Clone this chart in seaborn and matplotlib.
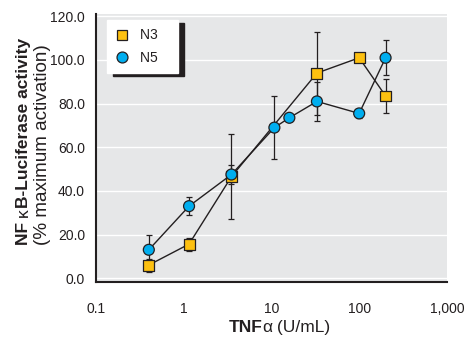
import numpy as np
import pandas as pd
import matplotlib
matplotlib.use("Agg")
import matplotlib.pyplot as plt
import matplotlib.ticker as mticker
import seaborn as sns

# data
n3_dose = [0.4, 1.15, 3.5, 33, 100, 200]
n3_act = [6.0, 15.6, 46.5, 94.0, 101.0, 83.5]
n3_err = [3.0, 3.0, 19.5, 19.0, 0.0, 8.0]

n5_dose = [0.4, 1.15, 3.5, 10.8, 16, 33, 100, 200]
n5_act = [13.0, 33.0, 47.5, 69.0, 73.5, 81.0, 75.5, 101.0]
n5_err = [7.0, 4.2, 4.3, 14.5, 0.0, 9.0, 2.0, 8.0]

x_ticks = [0.1, 1, 10, 100, 1000]
x_ticklabels = ["0.1", "1", "10", "100", "1,000"]
y_ticks = [0, 20, 40, 60, 80, 100, 120]

FONT = ["Liberation Sans Narrow", "Liberation Sans", "DejaVu Sans"]
INK = "#231F20"
GOLD = "#FDC010"
CYAN = "#00AEEF"

df = pd.concat([
    pd.DataFrame({"dose": n3_dose, "act": n3_act, "err": n3_err, "series": "N3"}),
    pd.DataFrame({"dose": n5_dose, "act": n5_act, "err": n5_err, "series": "N5"}),
], ignore_index=True)

sns.set_theme(style="white", rc={"axes.facecolor": "#E6E7E8"})
plt.rcParams["font.family"] = FONT

fig = plt.figure(figsize=(4.66, 3.37), dpi=100)
ax = fig.add_axes([0.206, 0.163, 0.753, 0.795])

for name, g in df.groupby("series"):
    ax.errorbar(g["dose"], g["act"], yerr=g["err"], fmt="none", ecolor=INK,
                elinewidth=0.9, capsize=2.5, capthick=0.9, zorder=2)

sns.lineplot(data=df, x="dose", y="act", units="series", estimator=None,
             color=INK, linewidth=1.0, ax=ax, zorder=3, legend=False)
sns.scatterplot(data=df, x="dose", y="act", hue="series", style="series",
                palette={"N3": GOLD, "N5": CYAN}, markers={"N3": "s", "N5": "o"},
                s=62, edgecolor=INK, linewidth=0.9, ax=ax, zorder=4)

ax.set_xscale("log")
ax.set_xlim(0.1, 1000)
ax.set_ylim(-1.8, 121)
ax.set_xticks(x_ticks)
ax.set_xticklabels(x_ticklabels)
ax.xaxis.set_minor_locator(mticker.NullLocator())
ax.set_yticks(y_ticks)
ax.yaxis.set_major_formatter(mticker.FormatStrFormatter("%.1f"))
ax.tick_params(axis="x", length=0, pad=14, labelsize=10, colors=INK)
ax.tick_params(axis="y", length=0, pad=8, labelsize=10, colors=INK)
ax.yaxis.grid(True, color="white", linewidth=1.0)
ax.set_axisbelow(True)
for side in ["top", "right"]:
    ax.spines[side].set_visible(False)
for side in ["left", "bottom"]:
    ax.spines[side].set_color(INK)
    ax.spines[side].set_linewidth(1.5)
ax.set_xlabel("")
ax.set_ylabel("")

handles, labels = ax.get_legend_handles_labels()
leg = ax.legend(handles, [l + "   " for l in labels],
                loc="upper left", bbox_to_anchor=(0.031, 0.978), borderaxespad=0,
                fancybox=False, framealpha=1, facecolor="white", edgecolor="white",
                fontsize=10, handlelength=1.0, handletextpad=0.8, labelspacing=0.6,
                borderpad=0.6, markerscale=1.0,
                shadow={"ox": 4.3, "oy": -2.2, "color": INK, "alpha": 1})
for t in leg.get_texts():
    t.set_color(INK)

# mixed-weight axis labels, built piece by piece
fig.canvas.draw()
renderer = fig.canvas.get_renderer()


def chain(pieces, x, y, rotation=0, fontsize=12):
    for txt, weight in pieces:
        kw = dict(fontsize=fontsize, fontweight=weight, color=INK, family=FONT,
                  rotation=rotation)
        if rotation:
            t = fig.text(x, y, txt, ha="center", va="bottom", **kw)
            bb = t.get_window_extent(renderer)
            y = fig.transFigure.inverted().transform((0, bb.y1))[1]
        else:
            t = fig.text(x, y, txt, ha="left", va="baseline", **kw)
            bb = t.get_window_extent(renderer)
            x = fig.transFigure.inverted().transform((bb.x1, 0))[0]


chain([("NF ", "bold"), ("κ", "normal"), ("B-Luciferase activity", "bold")],
      0.05, 0.273, rotation=90, fontsize=12.5)
chain([("(% maximum activation)", "normal")], 0.091, 0.273, rotation=90, fontsize=13.6)
chain([("TNF", "bold"), ("α", "normal"), (" (U/mL)", "normal")],
      0.49, 0.014, fontsize=12.5)

fig.savefig("out.png", dpi=100)
